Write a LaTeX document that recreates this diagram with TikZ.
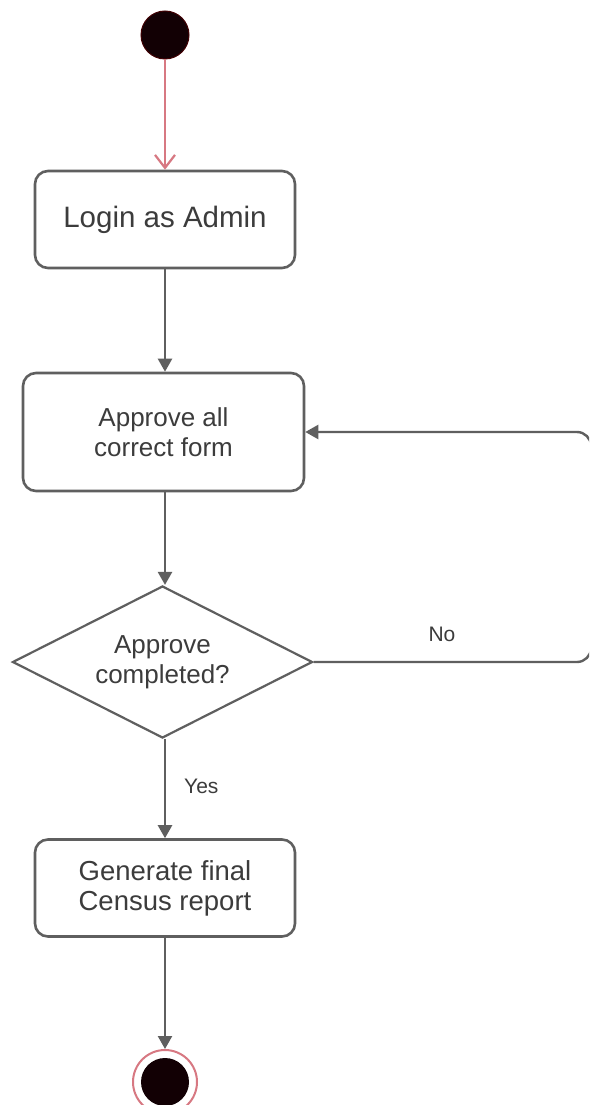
\documentclass[tikz,border=0pt]{standalone}
\usepackage{fontspec}
\setmainfont{Liberation Sans}
\usetikzlibrary{arrows.meta,shapes.geometric}
\definecolor{linegray}{RGB}{95,95,95}
\definecolor{textgray}{RGB}{60,60,60}
\definecolor{startred}{RGB}{215,120,130}
\definecolor{blackish}{RGB}{18,0,4}
\tikzset{
  actbox/.style={draw=linegray, line width=2.6pt, rounded corners=13pt, fill=white,
    text=textgray, align=center, font=\fontsize{26}{30}\selectfont, inner sep=0pt},
  decbox/.style={draw=linegray, line width=2.2pt, diamond, fill=white, text=textgray,
    align=center, font=\fontsize{26}{30}\selectfont, minimum width=300pt, minimum height=152pt,
    inner sep=0pt, aspect=2},
  flow/.style={draw=linegray, line width=2.4pt, -{Triangle[length=13pt,width=14pt]}},
  lbl/.style={text=textgray, font=\fontsize{21}{25}\selectfont, inner sep=0pt},
}
\begin{document}
\begin{tikzpicture}[x=1pt,y=-1pt]
\useasboundingbox (0,0) rectangle (589,1105);
\clip (0,0) rectangle (589,1105);
\fill[white] (0,0) rectangle (589,1105);
% start
\node[circle, fill=blackish, draw=blackish!80!red, line width=1pt, minimum size=48pt, inner sep=0pt] (start) at (165,35) {};
% boxes
\node[actbox, minimum width=260pt, minimum height=97pt, font=\fontsize{29.5}{33}\selectfont] (login) at (165,219.5) {Login as Admin};
\node[actbox, minimum width=281pt, minimum height=118pt] (approve) at (163.5,432) {Approve all\\correct form};
\node[decbox] (dec) at (162.5,662) {Approve\\completed?};
\node[actbox, minimum width=260pt, minimum height=97pt, font=\fontsize{27.5}{30}\selectfont] (gen) at (165,888) {Generate final\\Census report};
% end
\node[circle, draw=startred, line width=2pt, minimum size=64pt, inner sep=0pt] (endo) at (165,1082) {};
\node[circle, fill=blackish, minimum size=48pt, inner sep=0pt] (endi) at (endo.center) {};
% connectors
\draw[draw=startred, line width=2.2pt, -{Straight Barb[length=13pt,width=20pt,line width=2.2pt]}] (start.south) -- (login.north);
\draw[flow] (login.south) -- (approve.north -| login.south);
\draw[flow] (approve.south -| login.south) -- (dec.north -| login.south);
\draw[flow] (dec.south -| login.south) -- node[lbl, right=18pt, pos=0.48] {Yes} (gen.north);
\draw[flow] (gen.south) -- (endo.north);
\coordinate (loopR) at (591,662);
\draw[flow, rounded corners=14pt] (dec.east) -- (loopR) -- (loopR |- approve.east) -- (approve.east);
\node[lbl] (no) at (442,634) {No};
\end{tikzpicture}
\end{document}
